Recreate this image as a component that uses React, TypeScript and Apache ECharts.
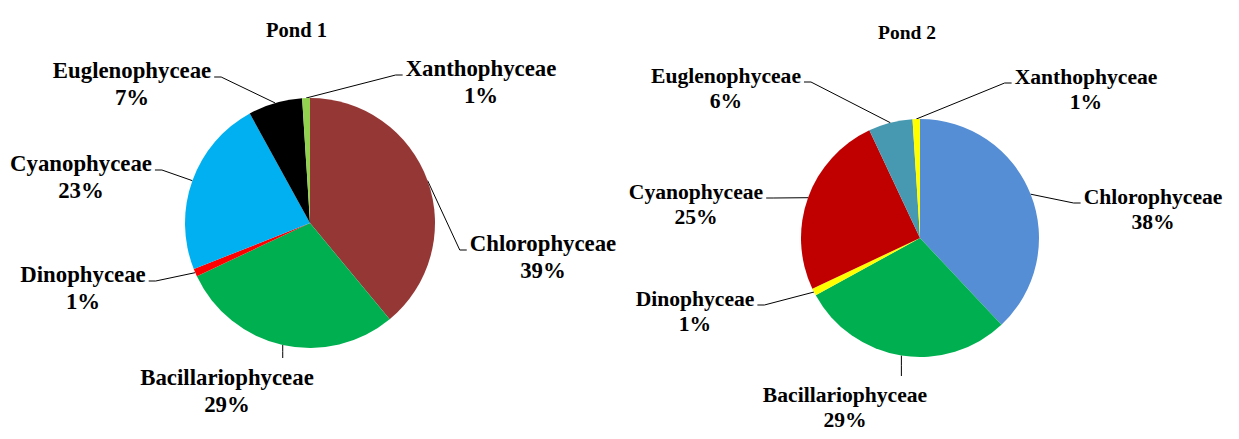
import React, { useEffect, useRef } from "react";
import * as echarts from "echarts";

const categories = [
  "Chlorophyceae",
  "Bacillariophyceae",
  "Dinophyceae",
  "Cyanophyceae",
  "Euglenophyceae",
  "Xanthophyceae",
];
const pond1Values = [39, 29, 1, 23, 7, 1];
const pond2Values = [38, 29, 1, 25, 6, 1];
const pondTitles = ["Pond 1", "Pond 2"];

const pond1Colors = ["#953735", "#00B050", "#FF0000", "#00B0F0", "#000000", "#92D050"];
const pond2Colors = ["#558ED5", "#00B050", "#FFFF00", "#C00000", "#4699B0", "#FFFF00"];

type Spot = { x: number; y: number; side: "left" | "right" | "bottom" };

const spots1: Spot[] = [
  { x: 543, y: 257, side: "right" },
  { x: 227, y: 391, side: "bottom" },
  { x: 83, y: 288, side: "left" },
  { x: 81, y: 177, side: "left" },
  { x: 132, y: 84, side: "left" },
  { x: 481, y: 82, side: "right" },
];
const spots2: Spot[] = [
  { x: 1153, y: 209, side: "right" },
  { x: 845, y: 407, side: "bottom" },
  { x: 695, y: 311, side: "left" },
  { x: 696, y: 204, side: "left" },
  { x: 726, y: 88, side: "left" },
  { x: 1086, y: 89, side: "right" },
];

const FONT = "Liberation Serif";

function makeLayout(spots: Spot[], attachDy: number) {
  return (params: any) => {
    const s = spots[params.dataIndex];
    const w = params.labelRect.width;
    const h = params.labelRect.height;
    const p0 = params.labelLinePoints && params.labelLinePoints[0];
    const start = p0 ? [p0[0], p0[1]] : [s.x, s.y];
    let pts: number[][];
    if (s.side === "right") {
      const end = [s.x - w / 2 - 3, s.y + attachDy];
      pts = [start, [end[0] - 7, end[1]], end];
    } else if (s.side === "left") {
      const end = [s.x + w / 2 + 3, s.y + attachDy];
      pts = [start, [end[0] + 7, end[1]], end];
    } else {
      const end = [start[0], s.y - h / 2 - 6];
      pts = [start, [start[0], (start[1] + end[1]) / 2], end];
    }
    return {
      x: s.x,
      y: s.y,
      align: "center",
      verticalAlign: "middle",
      labelLinePoints: pts,
    };
  };
}

function pieSeries(
  values: number[],
  colors: string[],
  center: number[],
  radius: number,
  fontSize: number,
  lineHeight: number,
  spots: Spot[],
  attachDy: number
) {
  return {
    type: "pie",
    center,
    radius,
    startAngle: 90,
    clockwise: true,
    silent: true,
    avoidLabelOverlap: false,
    data: categories.map((name, i) => ({
      name,
      value: values[i],
      itemStyle: { color: colors[i] },
    })),
    itemStyle: { borderWidth: 0 },
    label: {
      show: true,
      position: "outside",
      formatter: (p: any) => `${p.name}\n${Math.round(p.percent)}%`,
      fontFamily: FONT,
      fontWeight: "bold",
      fontSize,
      lineHeight,
      color: "#000",
      align: "center",
    },
    labelLine: {
      show: true,
      length: 15,
      length2: 10,
      lineStyle: { color: "#000", width: 1 },
    },
    labelLayout: makeLayout(spots, attachDy),
    emphasis: { disabled: true },
  };
}

export default function App() {
  const ref = useRef<HTMLDivElement>(null);
  useEffect(() => {
    document.body.style.margin = "0";
    if (!ref.current) return;
    const chart = echarts.init(ref.current, undefined, { renderer: "svg" });
    chart.setOption({
      animation: false,
      backgroundColor: "#fff",
      textStyle: { fontFamily: FONT },
      title: [
        {
          text: pondTitles[0],
          left: 266,
          top: 19,
          padding: 0,
          textStyle: { fontFamily: FONT, fontWeight: "bold", fontSize: 20.5, color: "#000" },
        },
        {
          text: pondTitles[1],
          left: 878,
          top: 22,
          padding: 0,
          textStyle: { fontFamily: FONT, fontWeight: "bold", fontSize: 19.5, color: "#000" },
        },
      ],
      series: [
        pieSeries(pond1Values, pond1Colors, [310, 223], 125, 22.8, 27, spots1, -7),
        pieSeries(pond2Values, pond2Colors, [920, 238], 119, 21.6, 25, spots2, -6),
      ],
    });
    return () => chart.dispose();
  }, []);
  return <div ref={ref} style={{ width: 1239, height: 439 }} />;
}
